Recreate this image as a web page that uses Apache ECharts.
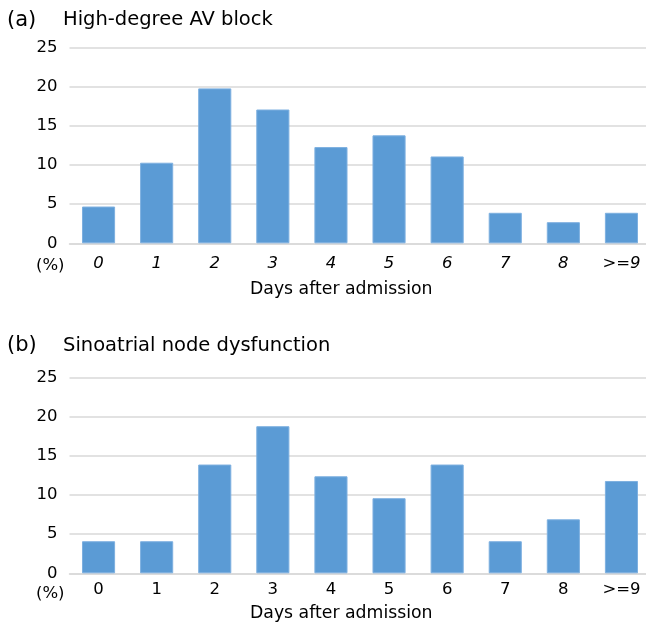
<!DOCTYPE html>
<html><head><meta charset="utf-8">
<script src="https://cdn.jsdelivr.net/npm/echarts@6/dist/echarts.min.js"></script>
<style>html,body{margin:0;padding:0;background:#fff;overflow:hidden}#c{width:660px;height:625px}</style>
</head><body><div id="c"></div>
<script>
const categories = ['0','1','2','3','4','5','6','7','8','>=9'];
const avBlock = [4.7, 10.3, 19.8, 17.1, 12.3, 13.8, 11.1, 3.9, 2.7, 3.9];
const sinoatrial = [4.1, 4.1, 13.9, 18.8, 12.4, 9.6, 13.9, 4.1, 6.9, 11.8];
const yTicks = [0, 5, 10, 15, 20, 25];
const titleA = 'High-degree AV block';
const titleB = 'Sinoatrial node dysfunction';
const xName = 'Days after admission';

const FONT = 'DejaVu Sans';
const chart = echarts.init(document.getElementById('c'), null, {renderer:'canvas'});
function xAxis(gi, italic, margin){
  return {type:'category', gridIndex:gi, data:categories,
    axisLine:{lineStyle:{color:'#d9d9d9', width:1.5}}, axisTick:{show:false},
    axisLabel:{color:'#000', fontSize:16.5, fontFamily:FONT, fontStyle: italic?'italic':'normal', margin:margin}};
}
function yAxis(gi){
  return {type:'value', gridIndex:gi, min:yTicks[0], max:yTicks[yTicks.length-1], interval:5,
    axisLine:{show:false}, axisTick:{show:false},
    splitLine:{lineStyle:{color:'#d9d9d9', width:1.5}},
    axisLabel:{color:'#000', fontSize:16.5, fontFamily:FONT, margin:12}};
}
function bar(gi, data){
  return {type:'bar', xAxisIndex:gi, yAxisIndex:gi, data:data, barWidth:'57%',
    itemStyle:{color:'#5b9bd5', borderColor:'#7eb0e0', borderWidth:1}, silent:true};
}
chart.setOption({
  animation:false,
  grid:[
    {left:69.5, width:581, top:47.7, height:195.6},
    {left:69.5, width:581, top:377.7, height:195.6}
  ],
  xAxis:[xAxis(0,true,12), xAxis(1,false,8)],
  yAxis:[yAxis(0), yAxis(1)],
  series:[bar(0, avBlock), bar(1, sinoatrial)],
  graphic:[
    {type:'text', left:7, top:10, style:{text:'(a)', fill:'#000', font:'21px "'+FONT+'"'}},
    {type:'text', left:63, top:10, style:{text:titleA, fill:'#000', font:'19.5px "'+FONT+'"'}},
    {type:'text', left:7, top:335, style:{text:'(b)', fill:'#000', font:'21px "'+FONT+'"'}},
    {type:'text', left:63, top:336, style:{text:titleB, fill:'#000', font:'19.5px "'+FONT+'"'}},
    {type:'text', left:36, top:257, style:{text:'(%)', fill:'#000', font:'16.5px "'+FONT+'"'}},
    {type:'text', left:36, top:585, style:{text:'(%)', fill:'#000', font:'16.5px "'+FONT+'"'}},
    {type:'text', left:250, top:281, style:{text:xName, fill:'#000', font:'17.3px "'+FONT+'"'}},
    {type:'text', left:250, top:605, style:{text:xName, fill:'#000', font:'17.3px "'+FONT+'"'}}
  ]
});
</script></body></html>
